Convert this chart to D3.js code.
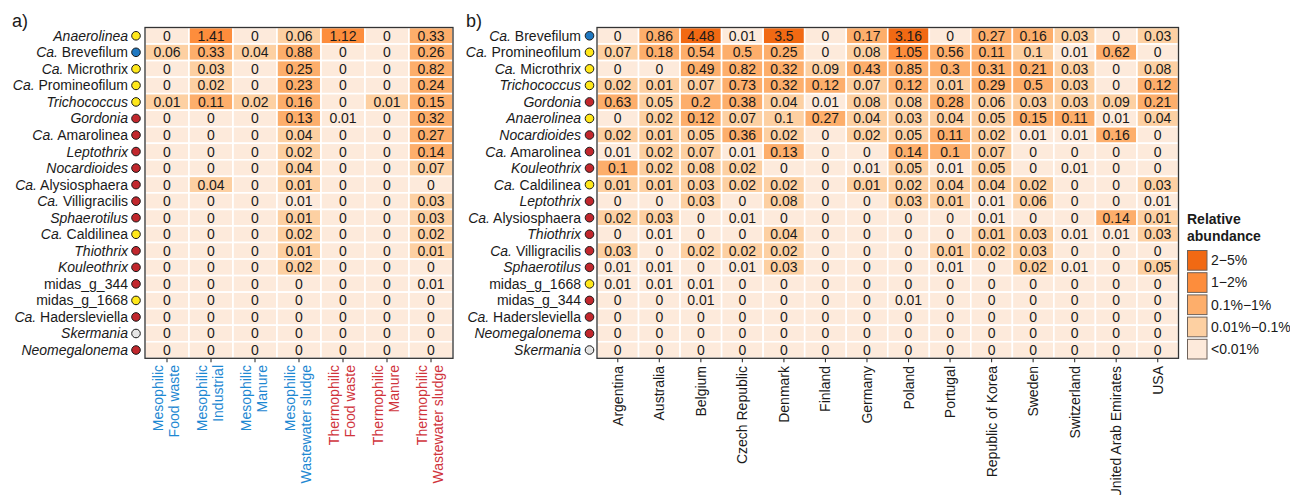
<!DOCTYPE html>
<html>
<head>
<meta charset="utf-8">
<script src="https://cdn.jsdelivr.net/npm/d3@7"></script>
<style>
  html, body { margin: 0; padding: 0; background: #fff; }
  svg { display: block; font-family: "Liberation Sans", Arial, sans-serif; }
</style>
</head>
<body>
<svg id="chart" width="1290" height="495"></svg>
<script>
// ---- Panel a: digester types ----
const sourceTemp = ["Mesophilic", "Mesophilic", "Mesophilic", "Mesophilic", "Thermophilic", "Thermophilic", "Thermophilic"];
const sourceType = ["Food waste", "Industrial", "Manure", "Wastewater sludge", "Food waste", "Manure", "Wastewater sludge"];
const taxaA = ["Anaerolinea", "Ca. Brevefilum", "Ca. Microthrix", "Ca. Promineofilum", "Trichococcus", "Gordonia",
  "Ca. Amarolinea", "Leptothrix", "Nocardioides", "Ca. Alysiosphaera", "Ca. Villigracilis", "Sphaerotilus",
  "Ca. Caldilinea", "Thiothrix", "Kouleothrix", "midas_g_344", "midas_g_1668", "Ca. Hadersleviella",
  "Skermania", "Neomegalonema"];
// relative abundance (%), one row per taxon, one column per digester type
const abundanceA = [
  [0, 1.41, 0, 0.06, 1.12, 0, 0.33],
  [0.06, 0.33, 0.04, 0.88, 0, 0, 0.26],
  [0, 0.03, 0, 0.25, 0, 0, 0.82],
  [0, 0.02, 0, 0.23, 0, 0, 0.24],
  [0.01, 0.11, 0.02, 0.16, 0, 0.01, 0.15],
  [0, 0, 0, 0.13, 0.008, 0, 0.32],
  [0, 0, 0, 0.04, 0, 0, 0.27],
  [0, 0, 0, 0.02, 0, 0, 0.14],
  [0, 0, 0, 0.04, 0, 0, 0.07],
  [0, 0.04, 0, 0.01, 0, 0, 0],
  [0, 0, 0, 0.008, 0, 0, 0.03],
  [0, 0, 0, 0.01, 0, 0, 0.03],
  [0, 0, 0, 0.02, 0, 0, 0.02],
  [0, 0, 0, 0.01, 0, 0, 0.01],
  [0, 0, 0, 0.02, 0, 0, 0],
  [0, 0, 0, 0, 0, 0, 0.008],
  [0, 0, 0, 0, 0, 0, 0],
  [0, 0, 0, 0, 0, 0, 0],
  [0, 0, 0, 0, 0, 0, 0],
  [0, 0, 0, 0, 0, 0, 0]
];

// ---- Panel b: countries ----
const countriesB = ["Argentina", "Australia", "Belgium", "Czech Republic", "Denmark", "Finland", "Germany",
  "Poland", "Portugal", "Republic of Korea", "Sweden", "Switzerland", "United Arab Emirates", "USA"];
const taxaB = ["Ca. Brevefilum", "Ca. Promineofilum", "Ca. Microthrix", "Trichococcus", "Gordonia", "Anaerolinea",
  "Nocardioides", "Ca. Amarolinea", "Kouleothrix", "Ca. Caldilinea", "Leptothrix", "Ca. Alysiosphaera",
  "Thiothrix", "Ca. Villigracilis", "Sphaerotilus", "midas_g_1668", "midas_g_344", "Ca. Hadersleviella",
  "Neomegalonema", "Skermania"];
const abundanceB = [
  [0, 0.86, 4.48, 0.008, 3.5, 0, 0.17, 3.16, 0, 0.27, 0.16, 0.03, 0, 0.03],
  [0.07, 0.18, 0.54, 0.5, 0.25, 0, 0.08, 1.05, 0.56, 0.11, 0.098, 0.008, 0.62, 0],
  [0, 0, 0.49, 0.82, 0.32, 0.09, 0.43, 0.85, 0.3, 0.31, 0.21, 0.03, 0, 0.08],
  [0.02, 0.01, 0.07, 0.73, 0.32, 0.12, 0.07, 0.12, 0.01, 0.29, 0.5, 0.03, 0, 0.12],
  [0.63, 0.05, 0.2, 0.38, 0.04, 0.008, 0.08, 0.08, 0.28, 0.06, 0.03, 0.03, 0.09, 0.21],
  [0, 0.02, 0.12, 0.07, 0.098, 0.27, 0.04, 0.03, 0.04, 0.05, 0.15, 0.11, 0.008, 0.04],
  [0.02, 0.01, 0.05, 0.36, 0.02, 0, 0.02, 0.05, 0.11, 0.02, 0.008, 0.008, 0.16, 0],
  [0.008, 0.02, 0.07, 0.008, 0.13, 0, 0, 0.14, 0.1, 0.07, 0, 0, 0, 0],
  [0.1, 0.02, 0.08, 0.02, 0, 0, 0.008, 0.05, 0.008, 0.05, 0, 0.008, 0, 0],
  [0.01, 0.01, 0.03, 0.02, 0.02, 0, 0.01, 0.02, 0.04, 0.04, 0.02, 0, 0, 0.03],
  [0, 0, 0.03, 0, 0.08, 0, 0, 0.03, 0.01, 0.008, 0.06, 0, 0, 0.008],
  [0.02, 0.03, 0, 0.008, 0, 0, 0, 0, 0, 0.008, 0, 0, 0.14, 0.01],
  [0, 0.008, 0, 0, 0.04, 0, 0, 0, 0, 0.01, 0.03, 0.008, 0.008, 0.03],
  [0.03, 0, 0.02, 0.02, 0.02, 0, 0, 0, 0.01, 0.02, 0.03, 0, 0, 0],
  [0.008, 0.008, 0, 0.008, 0.03, 0, 0, 0, 0.008, 0, 0.02, 0.008, 0, 0.05],
  [0.008, 0.008, 0.008, 0, 0, 0, 0, 0, 0, 0, 0, 0, 0, 0],
  [0, 0, 0.008, 0, 0, 0, 0, 0.008, 0, 0, 0, 0, 0, 0],
  [0, 0, 0, 0, 0, 0, 0, 0, 0, 0, 0, 0, 0, 0],
  [0, 0, 0, 0, 0, 0, 0, 0, 0, 0, 0, 0, 0, 0],
  [0, 0, 0, 0, 0, 0, 0, 0, 0, 0, 0, 0, 0, 0]
];

// ---- Taxon annotation ----
const italicGenera = ["Anaerolinea", "Trichococcus", "Gordonia", "Leptothrix", "Nocardioides", "Sphaerotilus",
  "Thiothrix", "Kouleothrix", "Skermania", "Neomegalonema"];
const taxonGroup = {
  "Anaerolinea": "yellow", "Ca. Brevefilum": "blue", "Ca. Microthrix": "yellow", "Ca. Promineofilum": "yellow",
  "Trichococcus": "yellow", "Gordonia": "red", "Ca. Amarolinea": "red", "Leptothrix": "red",
  "Nocardioides": "red", "Ca. Alysiosphaera": "red", "Ca. Villigracilis": "red", "Sphaerotilus": "red",
  "Ca. Caldilinea": "yellow", "Thiothrix": "red", "Kouleothrix": "red", "midas_g_344": "red",
  "midas_g_1668": "yellow", "Ca. Hadersleviella": "red", "Skermania": "none", "Neomegalonema": "red"
};
const groupColor = { yellow: "#FFE81A", blue: "#1F78C1", red: "#C1272D", none: "#E6E6E6" };

// ---- Abundance classes ----
const binEdges = [0.01, 0.1, 1, 2];
const binColors = ["#FDEADB", "#FDD0A2", "#FDAE6B", "#FD8D3C", "#F16913"];
const legendLabels = ["<0.01%", "0.01%\u22120.1%", "0.1%\u22121%", "1\u22122%", "2\u22125%"];

const fill = d3.scaleThreshold().domain(binEdges).range(binColors);
const fmt = v => String(+v.toFixed(2));

const svg = d3.select("#chart");
const plotTop = 27.5, plotBottom = 358.3;
const fontSize = 14;
const tempColor = { Mesophilic: "#1E88D2", Thermophilic: "#D0343C" };

function taxonLabel(sel, name) {
  if (name.startsWith("Ca. ")) {
    sel.append("tspan").attr("font-style", "italic").text("Ca.");
    sel.append("tspan").text(" " + name.slice(4));
  } else if (italicGenera.includes(name)) {
    sel.append("tspan").attr("font-style", "italic").text(name);
  } else {
    sel.append("tspan").text(name);
  }
}

function heatmap(cfg) {
  const x = d3.scaleBand().domain(d3.range(cfg.cols)).range([cfg.left, cfg.right]);
  const y = d3.scaleBand().domain(cfg.taxa).range([plotTop, plotBottom]);
  const g = svg.append("g");

  const cells = [];
  cfg.values.forEach((row, i) => row.forEach((v, j) => cells.push({ taxon: cfg.taxa[i], j, v })));

  g.selectAll("rect.cell").data(cells).join("rect")
    .attr("class", "cell")
    .attr("x", d => x(d.j)).attr("y", d => y(d.taxon))
    .attr("width", x.bandwidth()).attr("height", y.bandwidth())
    .attr("fill", d => fill(d.v))
    .attr("stroke", "#fff").attr("stroke-width", 1.6);

  g.selectAll("text.val").data(cells).join("text")
    .attr("class", "val")
    .attr("x", d => x(d.j) + x.bandwidth() / 2)
    .attr("y", d => y(d.taxon) + y.bandwidth() / 2 + 5)
    .attr("text-anchor", "middle").attr("font-size", fontSize).attr("fill", "#1a1a1a")
    .text(d => fmt(d.v));

  // frame
  g.append("rect").attr("x", cfg.left).attr("y", plotTop)
    .attr("width", cfg.right - cfg.left).attr("height", plotBottom - plotTop)
    .attr("fill", "none").attr("stroke", "#333").attr("stroke-width", 1.3);

  // x ticks
  const ax = g.append("g").attr("transform", `translate(0,${plotBottom})`)
    .call(d3.axisBottom(x).tickSize(4).tickSizeOuter(0).tickFormat(""));
  ax.select(".domain").remove();
  ax.selectAll(".tick line").attr("stroke", "#333").attr("stroke-width", 1.1);

  // taxon labels and group dots
  const yl = g.selectAll("g.ylab").data(cfg.taxa).join("g").attr("class", "ylab")
    .attr("transform", d => `translate(0,${y(d) + y.bandwidth() / 2})`);
  yl.append("text").attr("x", cfg.labelEnd).attr("y", 5)
    .attr("text-anchor", "end").attr("font-size", fontSize).attr("fill", "#1a1a1a")
    .each(function (d) { taxonLabel(d3.select(this), d); });
  yl.append("circle").attr("cx", cfg.dotX).attr("cy", 0).attr("r", 4.3)
    .attr("fill", d => groupColor[taxonGroup[d]]).attr("stroke", "#1a1a1a").attr("stroke-width", 1);

  return x;
}

// Panel a
const xa = heatmap({ cols: sourceType.length, taxa: taxaA, values: abundanceA,
  left: 145, right: 453, labelEnd: 128, dotX: 136 });
svg.append("g").selectAll("text").data(sourceType).join("text")
  .attr("transform", (d, i) => `translate(${xa(i) + xa.bandwidth() / 2},365) rotate(-90)`)
  .attr("text-anchor", "end").attr("font-size", fontSize)
  .attr("fill", (d, i) => tempColor[sourceTemp[i]])
  .each(function (d, i) {
    const t = d3.select(this);
    t.append("tspan").attr("x", 0).attr("y", -3.8).text(sourceTemp[i]);
    t.append("tspan").attr("x", 0).attr("y", 12).text(d);
  });

// Panel b
const xb = heatmap({ cols: countriesB.length, taxa: taxaB, values: abundanceB,
  left: 597, right: 1178.5, labelEnd: 581, dotX: 589.5 });
svg.append("g").selectAll("text").data(countriesB).join("text")
  .attr("transform", (d, i) => `translate(${xb(i) + xb.bandwidth() / 2 + 5},366) rotate(-90)`)
  .attr("text-anchor", "end").attr("font-size", fontSize).attr("fill", "#1a1a1a")
  .text(d => d);

// Panel tags
svg.append("text").attr("x", 12).attr("y", 27).attr("font-size", 18).attr("fill", "#1a1a1a").text("a)");
svg.append("text").attr("x", 466).attr("y", 27).attr("font-size", 18).attr("fill", "#1a1a1a").text("b)");

// Legend
const lg = svg.append("g").attr("transform", "translate(1187,0)");
lg.append("text").attr("font-size", fontSize).attr("font-weight", "bold").attr("fill", "#1a1a1a")
  .call(t => {
    t.append("tspan").attr("x", 0).attr("y", 224).text("Relative");
    t.append("tspan").attr("x", 0).attr("y", 240.5).text("abundance");
  });
const keys = binColors.map((c, i) => ({ c, label: legendLabels[i] })).reverse();
const ky = d3.scaleBand().domain(d3.range(keys.length)).range([250, 361]);
lg.selectAll("rect.key").data(keys).join("rect").attr("class", "key")
  .attr("x", 0.5).attr("y", (d, i) => ky(i) + 0.5)
  .attr("width", 19.5).attr("height", ky.bandwidth() - 2.5)
  .attr("fill", d => d.c).attr("stroke", "#6e625a").attr("stroke-width", 1);
lg.selectAll("text.klab").data(keys).join("text").attr("class", "klab")
  .attr("x", 24).attr("y", (d, i) => ky(i) + ky.bandwidth() / 2 + 4)
  .attr("font-size", fontSize).attr("fill", "#1a1a1a").text(d => d.label);
</script>
</body>
</html>
